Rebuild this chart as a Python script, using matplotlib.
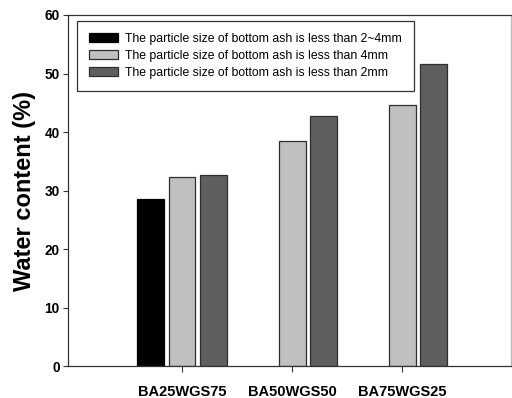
import numpy as np
import matplotlib
matplotlib.use("Agg")
import matplotlib.pyplot as plt

plt.rcParams['font.family'] = ['Liberation Sans', 'DejaVu Sans']

categories = ["BA25WGS75", "BA50WGS50", "BA75WGS25"]
series_labels = [
    "The particle size of bottom ash is less than 2~4mm",
    "The particle size of bottom ash is less than 4mm",
    "The particle size of bottom ash is less than 2mm",
]
size_2_4mm = [28.5, np.nan, np.nan]
size_4mm = [32.4, 38.4, 44.7]
size_2mm = [32.6, 42.8, 51.7]
yticks = [0, 10, 20, 30, 40, 50, 60]

fig = plt.figure(figsize=(5.12, 3.98), dpi=100)
ax = fig.add_axes([68 / 512, (398 - 366.3) / 398, 443 / 512, 351.3 / 398])

x = np.arange(len(categories))
width = 0.245
offset = 0.282
edge = "#2e2e2e"
ax.bar(x - offset, size_2_4mm, width, color="#000000", edgecolor="#000000",
       linewidth=0.9, label=series_labels[0])
ax.bar(x, size_4mm, width, color="#c0c0c0", edgecolor=edge,
       linewidth=0.9, label=series_labels[1])
ax.bar(x + offset, size_2mm, width, color="#5f5f5f", edgecolor=edge,
       linewidth=0.9, label=series_labels[2])

ax.set_xlim(-1.036, 2.99)
ax.set_ylim(0, 60)
ax.set_yticks(yticks)
ax.set_xticks(x)
ax.set_xticklabels(categories, fontsize=10.5, fontweight="bold")
for lbl in ax.get_yticklabels():
    lbl.set_fontsize(9.8)
    lbl.set_fontweight("bold")
ax.tick_params(axis="y", direction="out", length=3.5, width=0.8, pad=2.5, color="#333333")
ax.tick_params(axis="x", direction="out", length=4.2, width=0.8, pad=9, color="#333333")

for side in ["left", "bottom", "top"]:
    ax.spines[side].set_color("#333333")
    ax.spines[side].set_linewidth(0.9)
ax.spines["right"].set_color("#bbbbbb")
ax.spines["right"].set_linewidth(0.9)

ax.set_ylabel("Water content (%)", fontsize=17, fontweight="bold", labelpad=6)

leg = ax.legend(loc="upper left", bbox_to_anchor=(9 / 443, 1 - 6 / 351.3),
                fontsize=8.8, frameon=True, fancybox=False, framealpha=1,
                edgecolor="#333333", borderpad=1.0, borderaxespad=0,
                handlelength=2.35, handleheight=0.75, handletextpad=0.55,
                labelspacing=0.4)
leg.get_frame().set_linewidth(0.9)

fig.savefig("out.png", dpi=100)
